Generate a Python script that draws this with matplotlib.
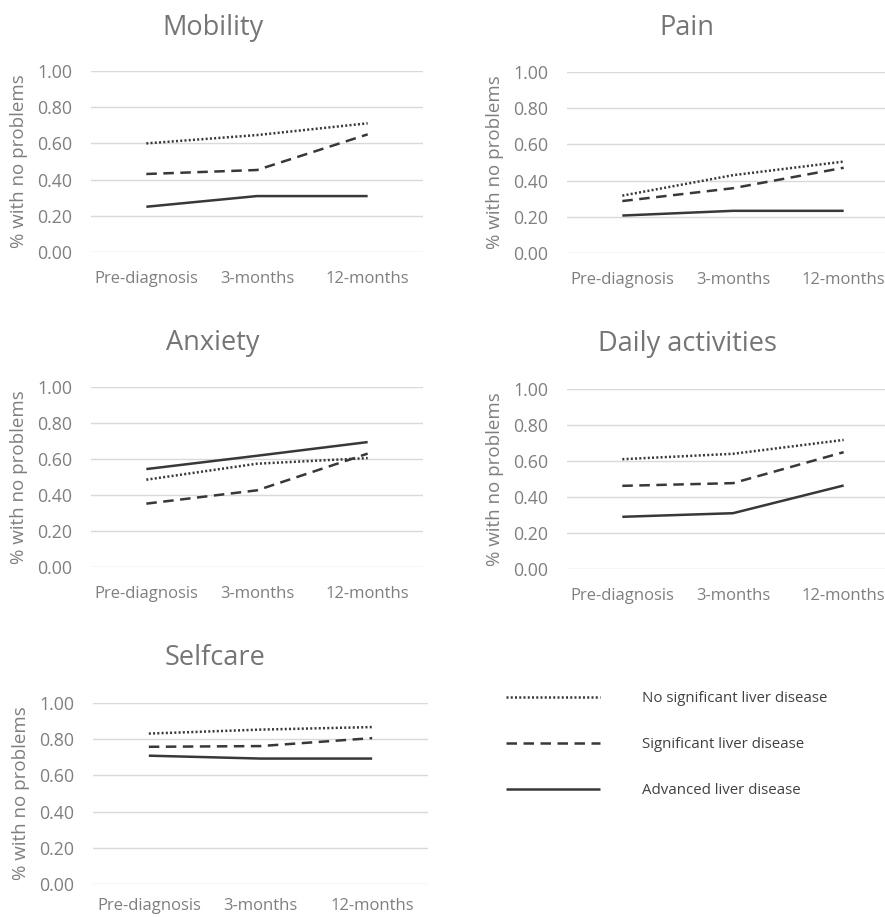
import matplotlib
matplotlib.use('Agg')
from matplotlib import pyplot as plt

plt.rcParams['font.family'] = ['Open Sans', 'DejaVu Sans']

timepoints = ['Pre-diagnosis', '3-months', '12-months']
groups = ['No significant liver disease', 'Significant liver disease', 'Advanced liver disease']

# values, one list per group (no sig / sig / advanced)
mobility_none = [0.60, 0.646, 0.711]
mobility_sig = [0.431, 0.453, 0.650]
mobility_adv = [0.250, 0.309, 0.309]

pain_none = [0.317, 0.430, 0.505]
pain_sig = [0.287, 0.358, 0.471]
pain_adv = [0.207, 0.233, 0.233]

anxiety_none = [0.485, 0.574, 0.605]
anxiety_sig = [0.352, 0.426, 0.630]
anxiety_adv = [0.544, 0.618, 0.694]

daily_none = [0.610, 0.640, 0.717]
daily_sig = [0.462, 0.477, 0.649]
daily_adv = [0.290, 0.310, 0.464]

selfcare_none = [0.831, 0.853, 0.867]
selfcare_sig = [0.758, 0.762, 0.806]
selfcare_adv = [0.709, 0.693, 0.693]

yticks = [0.0, 0.2, 0.4, 0.6, 0.8, 1.0]

W, H = 885, 917
fig = plt.figure(figsize=(W / 100, H / 100), dpi=100)

grey = '#7f7f7f'
title_grey = '#757575'
line_col = '#383838'

# panel: title, data, (left px, top px, width px, height px), title centre px, xtick pad
panels = [
    ('Mobility', (mobility_none, mobility_sig, mobility_adv), (91, 71, 332, 181), (213, 28), 14),
    ('Pain', (pain_none, pain_sig, pain_adv), (567, 72, 332, 181), (687, 28), 14),
    ('Anxiety', (anxiety_none, anxiety_sig, anxiety_adv), (91, 387, 332, 180), (213, 343), 14),
    ('Daily activities', (daily_none, daily_sig, daily_adv), (567, 389, 332, 180), (688, 344), 14),
    ('Selfcare', (selfcare_none, selfcare_sig, selfcare_adv), (93, 703, 335, 181), (215, 658), 10),
]

styles = [dict(linestyle=(0, (0.8, 0.9)), lw=1.8),
          dict(linestyle=(0, (4.2, 2.6)), lw=1.8),
          dict(linestyle='-', lw=1.8)]

handles = []
for title, series, (l, t, w, h), (tx, ty), xpad in panels:
    ax = fig.add_axes([l / W, 1 - (t + h) / H, w / W, h / H])
    x = range(len(timepoints))
    hs = []
    for vals, st in zip(series, styles):
        ln, = ax.plot(x, vals, color=line_col, solid_capstyle='butt',
                      dash_capstyle='butt', **st)
        hs.append(ln)
    handles = hs
    ax.set_xlim(-0.5, 2.5)
    ax.set_ylim(0, 1.0)
    ax.set_yticks(yticks)
    ax.set_yticklabels(['%.2f' % v for v in yticks])
    ax.set_xticks(list(x))
    ax.set_xticklabels(timepoints)
    ax.grid(axis='y', color='#d9d9d9', lw=1)
    ax.set_axisbelow(True)
    for s in ax.spines.values():
        s.set_visible(False)
    ax.tick_params(length=0, colors=grey)
    ax.tick_params(axis='x', labelsize=12, pad=xpad)
    ax.tick_params(axis='y', labelsize=12.8, pad=13.5)
    ax.set_ylabel('% with no problems', fontsize=13.5, color=grey)
    ax.yaxis.set_label_coords(-63 / w, 0.5)
    fig.text(tx / W, 1 - ty / H, title, ha='center', va='center',
             fontsize=19.5, color=title_grey)

fig.legend(handles, groups, loc='upper left',
           bbox_to_anchor=(492 / W, 1 - 678 / H), frameon=False,
           fontsize=10.8, handlelength=6.3, handletextpad=2.8,
           labelspacing=2.05, labelcolor='#404040')

fig.savefig('out.png', dpi=100)
